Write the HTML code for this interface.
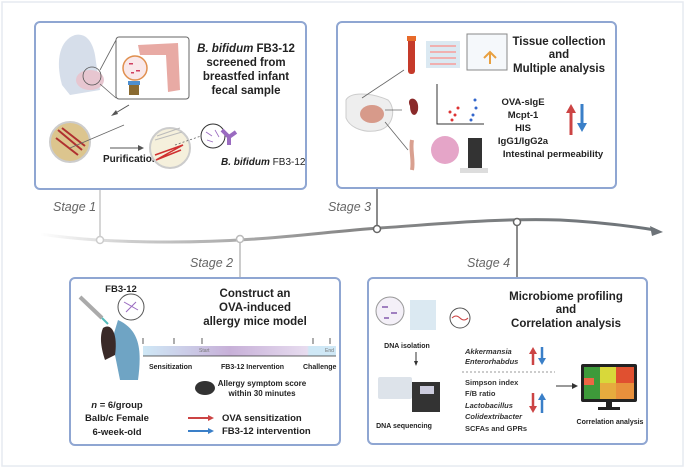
<!DOCTYPE html>
<html><head><meta charset="utf-8"><style>
html,body{margin:0;padding:0;background:#fff;}
svg{display:block;font-family:"Liberation Sans",Arial,sans-serif;}
.t{font-weight:bold;fill:#222;}
</style></head><body>
<svg width="685" height="470" viewBox="0 0 685 470" xmlns="http://www.w3.org/2000/svg">
<defs>
<linearGradient id="tl" x1="0" x2="1"><stop offset="0" stop-color="#fff"/><stop offset="0.15" stop-color="#ccc"/><stop offset="0.5" stop-color="#888"/><stop offset="1" stop-color="#6d7378"/></linearGradient>
<linearGradient id="bar" x1="0" x2="1"><stop offset="0" stop-color="#cfe8f6"/><stop offset="0.45" stop-color="#c7b0d8"/><stop offset="0.85" stop-color="#e7dcef"/><stop offset="0.86" stop-color="#cfe8f6"/></linearGradient>
</defs>
<rect x="2" y="2" width="681" height="464" fill="#fff" stroke="#e6eaf0" stroke-width="1.5"/>
<!-- timeline -->
<path d="M40 234 C80 240,120 242,170 242 C260 242,320 232,380 228 C440 224,500 218,560 220 C600 222,630 226,655 230" fill="none" stroke="url(#tl)" stroke-width="3"/>
<polygon points="663,232 650,226 652,236" fill="#6d7378"/>
<line x1="100" y1="190" x2="100" y2="240" stroke="#c8c8c8" stroke-width="1.5"/>
<line x1="240" y1="240" x2="240" y2="278" stroke="#bbb" stroke-width="1.5"/>
<line x1="377" y1="188" x2="377" y2="229" stroke="#666" stroke-width="1.5"/>
<line x1="517" y1="222" x2="517" y2="278" stroke="#666" stroke-width="1.5"/>
<circle cx="100" cy="240" r="3.5" fill="#fff" stroke="#ccc" stroke-width="1.5"/>
<circle cx="240" cy="239" r="3.5" fill="#fff" stroke="#bbb" stroke-width="1.5"/>
<circle cx="377" cy="229" r="3.5" fill="#fff" stroke="#666" stroke-width="1.5"/>
<circle cx="517" cy="222" r="3.5" fill="#fff" stroke="#666" stroke-width="1.5"/>
<g font-style="italic" font-size="12.5" fill="#666">
<text x="53" y="211">Stage 1</text><text x="328" y="211">Stage 3</text>
<text x="190" y="267">Stage 2</text><text x="467" y="267">Stage 4</text></g>

<!-- boxes -->
<g fill="#fff" stroke="#8fa6d2" stroke-width="2">
<rect x="35" y="22" width="271" height="167" rx="5"/>
<rect x="337" y="22" width="279" height="166" rx="5"/>
<rect x="70" y="278" width="270" height="167" rx="5"/>
<rect x="368" y="278" width="279" height="166" rx="5"/>
</g>

<!-- Stage 1 -->
<path d="M62 85 C55 60,60 40,75 35 C85 33,92 40,95 55 L100 90 L70 95Z" fill="#d6deea"/>
<ellipse cx="90" cy="80" rx="14" ry="10" fill="#e7c6d0"/>
<circle cx="92" cy="76" r="9" fill="none" stroke="#555" stroke-width="0.8"/>
<line x1="100" y1="70" x2="116" y2="40" stroke="#666" stroke-width="0.8"/><line x1="100" y1="84" x2="116" y2="98" stroke="#666" stroke-width="0.8"/>
<rect x="116" y="37" width="73" height="62" rx="3" fill="#fff" stroke="#666" stroke-width="1"/>
<path d="M138 45 L178 43 L180 90 L168 92 L166 55 L140 55Z" fill="#e8aaa4"/>
<circle cx="135" cy="68" r="12" fill="#f9e8ea" stroke="#e09050" stroke-width="1.5"/>
<g fill="#d04060"><rect x="129" y="63" width="4" height="1.5"/><rect x="136" y="70" width="4" height="1.5"/><rect x="131" y="72" width="3" height="1.5"/></g>
<rect x="128" y="81" width="12" height="4" fill="#4d8fd0"/><rect x="129" y="85" width="10" height="10" fill="#8a6a30"/>
<g class="t" font-size="11.5" text-anchor="middle">
<text x="246" y="52"><tspan font-style="italic">B. bifidum</tspan> FB3-12</text>
<text x="246" y="66">screened from</text><text x="246" y="80">breastfed infant</text><text x="246" y="94">fecal sample</text></g>
<circle cx="70" cy="142" r="20" fill="#dcc58e" stroke="#ccc" stroke-width="2"/>
<path d="M58 130 L82 150 M62 128 L85 146 M56 138 L78 155" stroke="#b03030" stroke-width="2"/>
<line x1="70" y1="148" x2="124" y2="125" stroke="#666" stroke-width="0.8"/>
<line x1="129" y1="105" x2="114" y2="114" stroke="#555"/><polygon points="111,116 116,110 118,114" fill="#555"/>
<line x1="110" y1="148" x2="140" y2="148" stroke="#555"/><polygon points="144,148 138,145 138,151" fill="#555"/>
<text x="103" y="162" class="t" font-size="10">Purification</text>
<circle cx="170" cy="148" r="20" fill="#f5f0dc" stroke="#ccc" stroke-width="2"/>
<path d="M155 140 L182 132 M157 136 L180 128" stroke="#bbb" stroke-width="1"/>
<path d="M155 155 L183 145 L156 160 L181 150" stroke="#d03030" stroke-width="1.5" fill="none"/>
<circle cx="213" cy="136" r="12" fill="#fff" stroke="#333"/>
<g stroke="#9a6bc0" stroke-width="0.8"><path d="M206 132 L212 136 M215 130 L219 137 M207 140 L213 142"/></g>
<line x1="175" y1="145" x2="201" y2="136" stroke="#666" stroke-dasharray="2,2" stroke-width="0.8"/>
<path d="M222 130 L229 137 L236 132 M229 137 L229 145" stroke="#9a6bc0" stroke-width="4" fill="none"/>
<text x="221" y="165" font-size="10" fill="#222"><tspan font-style="italic" font-weight="bold">B. bifidum</tspan> FB3-12</text>

<!-- Stage 3 -->
<path d="M346 100 C350 92,370 92,388 100 C396 108,394 126,380 130 C365 134,350 128,346 118Z" fill="#eeeeee" stroke="#ccc"/>
<ellipse cx="372" cy="114" rx="12" ry="9" fill="#d79a8a"/>
<line x1="362" y1="98" x2="404" y2="70" stroke="#666" stroke-width="0.8"/>
<line x1="385" y1="110" x2="402" y2="110" stroke="#666" stroke-width="0.8"/>
<line x1="385" y1="122" x2="408" y2="150" stroke="#666" stroke-width="0.8"/>
<rect x="408" y="38" width="7" height="36" rx="3" fill="#c53a2a"/><rect x="407" y="36" width="9" height="5" fill="#e76a2a"/>
<rect x="426" y="41" width="34" height="27" fill="#dbe9f2"/>
<g fill="#f0b0b0"><rect x="430" y="45" width="26" height="2"/><rect x="430" y="51" width="26" height="2"/><rect x="430" y="57" width="26" height="2"/><rect x="430" y="63" width="26" height="2"/></g>
<rect x="467" y="34" width="40" height="36" fill="#f5f8fb" stroke="#888"/>
<path d="M484 58 L490 52 L496 58 M490 52 L490 64" stroke="#e8a040" stroke-width="2" fill="none"/>
<path d="M410 106 C405 96,420 95,418 110 C416 118,410 116,410 106Z" fill="#8a2a2a"/>
<path d="M437 84 L437 124 L484 124" stroke="#333" fill="none"/>
<g fill="#d33"><circle cx="455" cy="115" r="1.5"/><circle cx="452" cy="120" r="1.5"/><circle cx="458" cy="108" r="1.5"/><circle cx="450" cy="112" r="1.5"/></g>
<g fill="#36c"><circle cx="473" cy="115" r="1.5"/><circle cx="476" cy="108" r="1.5"/><circle cx="471" cy="120" r="1.5"/><circle cx="475" cy="100" r="1.5"/></g>
<circle cx="445" cy="150" r="14" fill="#e5a5c8"/>
<rect x="468" y="138" width="14" height="34" fill="#333"/><rect x="460" y="168" width="28" height="5" fill="#ddd"/>
<path d="M412 140 C410 150,414 160,412 170" stroke="#d9a090" stroke-width="4" fill="none"/>
<g class="t" font-size="11.5" text-anchor="middle">
<text x="559" y="45">Tissue collection</text><text x="559" y="58">and</text><text x="559" y="72">Multiple analysis</text></g>
<g class="t" font-size="9.5" text-anchor="middle" fill="#333">
<text x="523" y="105">OVA-sIgE</text><text x="523" y="118">Mcpt-1</text><text x="523" y="131">HIS</text><text x="523" y="144">IgG1/IgG2a</text><text x="553" y="157">Intestinal permeability</text></g>
<line x1="571" y1="135" x2="571" y2="112" stroke="#c44" stroke-width="3"/><polygon points="571,104 566,113 576,113" fill="#c44"/>
<line x1="582" y1="104" x2="582" y2="124" stroke="#3a7fc8" stroke-width="3"/><polygon points="582,132 577,123 587,123" fill="#3a7fc8"/>

<!-- Stage 2 -->
<line x1="80" y1="297" x2="102" y2="318" stroke="#aaa" stroke-width="4"/>
<line x1="102" y1="318" x2="108" y2="324" stroke="#5bb" stroke-width="2"/>
<path d="M118 320 C140 330,142 350,138 380 L120 380 L112 340Z" fill="#6fa4c4"/>
<path d="M103 328 C112 322,118 335,115 355 L105 360 C100 345,100 335,103 328Z" fill="#3a2a28"/>
<circle cx="131" cy="307" r="13" fill="#fff" stroke="#555"/>
<path d="M124 302 L138 310 M126 312 L136 302" stroke="#9a6bc0"/>
<text x="121" y="292" class="t" font-size="9.5" text-anchor="middle">FB3-12</text>
<g class="t" font-size="11.5" text-anchor="middle">
<text x="255" y="297">Construct an</text><text x="255" y="311">OVA-induced</text><text x="255" y="325">allergy mice model</text></g>
<rect x="143" y="346" width="193" height="10" fill="url(#bar)"/>
<line x1="143" y1="356" x2="336" y2="356" stroke="#333" stroke-width="0.8"/>
<g stroke="#333" stroke-width="0.8"><line x1="143" y1="338" x2="143" y2="344"/><line x1="174" y1="338" x2="174" y2="344"/><line x1="202" y1="338" x2="202" y2="344"/><line x1="313" y1="338" x2="313" y2="344"/><line x1="330" y1="338" x2="330" y2="344"/></g>
<text x="199" y="352" font-size="5" fill="#777">Start</text><text x="325" y="352" font-size="5" fill="#777">End</text>
<g class="t" font-size="7" fill="#333"><text x="149" y="369">Sensitization</text><text x="221" y="369">FB3-12 Inervention</text><text x="303" y="369">Challenge</text></g>
<ellipse cx="205" cy="388" rx="10" ry="7" fill="#333"/>
<g class="t" font-size="8" fill="#333" text-anchor="middle"><text x="262" y="386">Allergy symptom score</text><text x="262" y="396">within 30 minutes</text></g>
<g class="t" font-size="9.5" text-anchor="middle" fill="#333"><text x="117" y="408"><tspan font-style="italic">n</tspan> = 6/group</text><text x="117" y="421">Balb/c Female</text><text x="117" y="435">6-week-old</text></g>
<line x1="188" y1="418" x2="210" y2="418" stroke="#c44" stroke-width="2"/><polygon points="214,418 208,415 208,421" fill="#c44"/>
<line x1="188" y1="431" x2="210" y2="431" stroke="#3a7fc8" stroke-width="2"/><polygon points="214,431 208,428 208,434" fill="#3a7fc8"/>
<g class="t" font-size="9.5" fill="#333"><text x="222" y="421">OVA sensitization</text><text x="222" y="434">FB3-12 intervention</text></g>

<!-- Stage 4 -->
<circle cx="390" cy="311" r="14" fill="#f4f0f8" stroke="#999"/>
<g fill="#a080c0"><rect x="382" y="306" width="6" height="2"/><rect x="391" y="312" width="6" height="2"/><rect x="384" y="317" width="5" height="2"/></g>
<rect x="410" y="300" width="26" height="30" fill="#dbe9f2"/>
<circle cx="460" cy="318" r="10" fill="#fff" stroke="#555"/>
<path d="M452 318 Q456 314 460 318 T468 318" stroke="#c44" fill="none"/>
<text x="407" y="348" class="t" font-size="7" text-anchor="middle">DNA isolation</text>
<line x1="416" y1="352" x2="416" y2="363" stroke="#333"/><polygon points="416,366 414,361 418,361" fill="#333"/>
<rect x="378" y="377" width="34" height="22" rx="2" fill="#dde3ea"/><rect x="412" y="382" width="28" height="30" fill="#333"/>
<rect x="420" y="386" width="14" height="8" fill="#ccd"/>
<text x="404" y="428" class="t" font-size="7" text-anchor="middle">DNA sequencing</text>
<g class="t" font-size="11.5" text-anchor="middle"><text x="566" y="300">Microbiome profiling</text><text x="566" y="313">and</text><text x="566" y="327">Correlation analysis</text></g>
<g font-size="7.5" font-weight="bold" fill="#333" font-style="italic"><text x="465" y="354">Akkermansia</text><text x="465" y="364">Enterorhabdus</text></g>
<line x1="462" y1="372" x2="555" y2="372" stroke="#999" stroke-dasharray="2,2"/>
<g font-size="7.5" font-weight="bold" fill="#333"><text x="465" y="385">Simpson index</text><text x="465" y="396">F/B ratio</text><text x="465" y="408" font-style="italic">Lactobacillus</text><text x="465" y="419" font-style="italic">Colidextribacter</text><text x="465" y="431">SCFAs and GPRs</text></g>
<line x1="533" y1="365" x2="533" y2="352" stroke="#c44" stroke-width="2.5"/><polygon points="533,347 529,354 537,354" fill="#c44"/>
<line x1="542" y1="347" x2="542" y2="360" stroke="#3a7fc8" stroke-width="2.5"/><polygon points="542,365 538,358 546,358" fill="#3a7fc8"/>
<line x1="533" y1="393" x2="533" y2="407" stroke="#c44" stroke-width="2.5"/><polygon points="533,413 529,406 537,406" fill="#c44"/>
<line x1="542" y1="413" x2="542" y2="398" stroke="#3a7fc8" stroke-width="2.5"/><polygon points="542,393 538,400 546,400" fill="#3a7fc8"/>
<line x1="556" y1="386" x2="574" y2="386" stroke="#333"/><polygon points="578,386 572,383 572,389" fill="#333"/>
<rect x="581" y="364" width="56" height="38" rx="2" fill="#222"/>
<g>
<rect x="584" y="367" width="16" height="32" fill="#3e9a3a"/><rect x="600" y="367" width="16" height="32" fill="#d8d83a"/><rect x="616" y="367" width="18" height="32" fill="#e05030"/>
<rect x="600" y="383" width="34" height="16" fill="#eaa040" opacity="0.8"/><rect x="584" y="378" width="10" height="7" fill="#e64"/>
</g>
<rect x="606" y="402" width="6" height="6" fill="#222"/><rect x="598" y="407" width="22" height="3" fill="#222"/>
<text x="610" y="424" class="t" font-size="7" text-anchor="middle">Correlation analysis</text>
</svg>
</body></html>
